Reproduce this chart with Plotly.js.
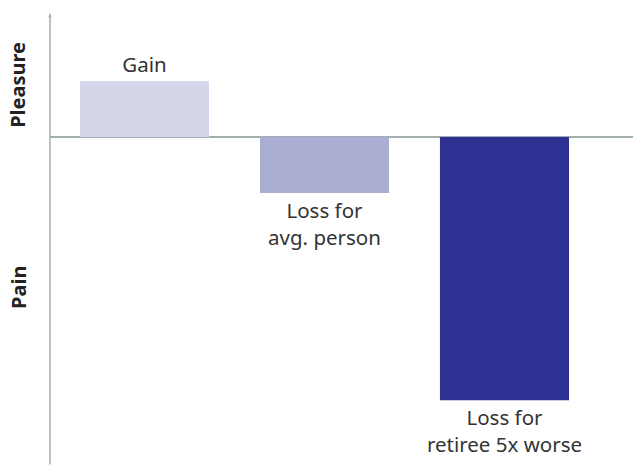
<!DOCTYPE html>
<html>
<head>
<meta charset="utf-8">
<script src="https://cdn.plot.ly/plotly-3.0.1.min.js"></script>
<style>html,body{margin:0;padding:0;background:#fff;}#chart{width:633px;height:475px;}</style>
</head>
<body>
<div id="chart"></div>
<script>
const categories = ["Gain", "Loss avg", "Loss retiree"];
const values = [1, -1, -4.7];
const barLabels = ["Gain", "Loss for<br>avg. person", "Loss for<br>retiree 5x worse"];
const barColors = ["#d5d6e9", "#abaed3", "#2e3192"];
const axisLabels = ["Pleasure", "Pain"];

const trace = {
  type: "bar",
  x: categories,
  y: values,
  width: 0.717,
  marker: {color: barColors, line: {width: 0}},
  text: barLabels,
  texttemplate: "%{text}",
  textposition: "outside",
  constraintext: "none",
  cliponaxis: false,
  textfont: {family: "'Noto Sans', Lato, sans-serif", size: 20.5, color: "#333333"},
  hoverinfo: "none"
};

const layout = {
  width: 633, height: 475,
  margin: {l: 50, r: 0, t: 0, b: 0},
  paper_bgcolor: "#ffffff", plot_bgcolor: "#ffffff",
  showlegend: false,
  xaxis: {range: [-0.525, 2.714], showticklabels: false, showgrid: false, zeroline: false, showline: false, ticks: ""},
  yaxis: {range: [-6.036, 2.446], showticklabels: false, showgrid: false, zeroline: true, zerolinecolor: "#a2aeae", zerolinewidth: 1.2, showline: false, ticks: ""},
  shapes: [
    {type: "line", xref: "paper", yref: "y", x0: 0, x1: 0, y0: -5.85, y1: 2.2, line: {color: "#a2aeae", width: 1.5}}
  ],
  annotations: [
    {xref: "paper", yref: "y", x: -0.055, xanchor: "center", y: 0.93, text: "<b>" + axisLabels[0] + "</b>", textangle: -90, showarrow: false, font: {family: "'Noto Sans', Lato, sans-serif", size: 20, color: "#222222"}},
    {xref: "paper", yref: "y", x: -0.055, xanchor: "center", y: -2.68, text: "<b>" + axisLabels[1] + "</b>", textangle: -90, showarrow: false, font: {family: "'Noto Sans', Lato, sans-serif", size: 20, color: "#222222"}},
    {xref: "paper", yref: "y", x: 0, y: 2.2, ax: 0, ay: 3, axref: "pixel", ayref: "pixel", showarrow: true, arrowhead: 2, arrowsize: 0.6, arrowwidth: 1.2, arrowcolor: "#a2aeae", text: ""}
  ]
};

Plotly.newPlot("chart", [trace], layout, {staticPlot: true, displayModeBar: false});
</script>
</body>
</html>
